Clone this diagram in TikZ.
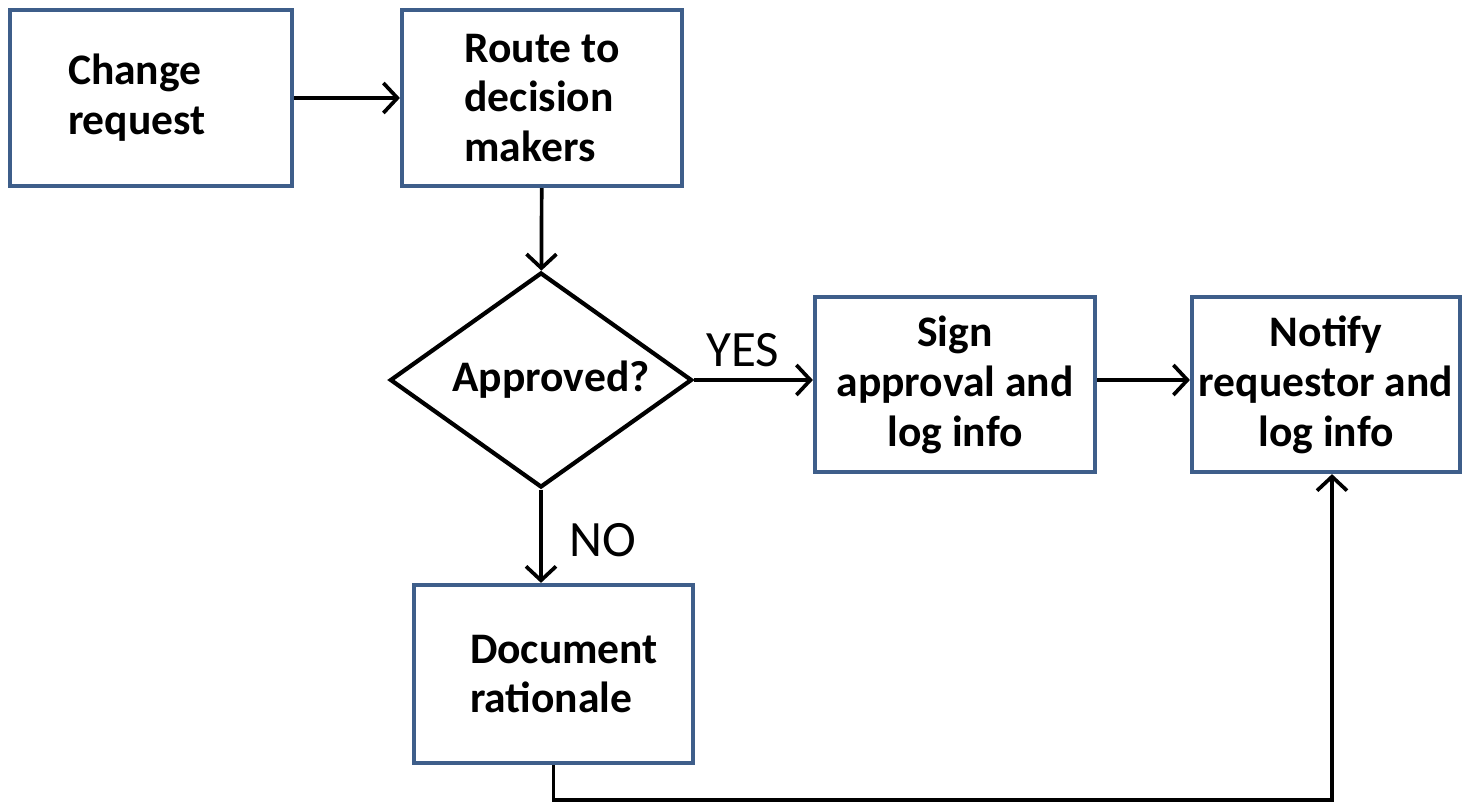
\documentclass[tikz,border=0pt]{standalone}
\usepackage{fontspec}
\setmainfont{Carlito}
\usepackage{xcolor}
\usepackage{tikz}
\usetikzlibrary{arrows.meta, positioning, calc, shapes.geometric}

\definecolor{boxblue}{RGB}{62,94,138}

\begin{document}
\begin{tikzpicture}[scale=1.0,
		box/.style={draw=boxblue, line width=1.2pt, minimum width=2.8cm, minimum height=1.76cm,
			font=\fontsize{12.4}{14.2}\selectfont\bfseries, align=center, inner sep=0pt},
		leftbox/.style={box, align=left, text width=#1},
		decision/.style={draw, line width=1.2pt, diamond, aspect=1.4, minimum width=3.02cm,
			minimum height=2.15cm, inner sep=0pt, font=\fontsize{12.4}{14.2}\selectfont\bfseries},
		flow/.style={line width=1.05pt, -{Straight Barb[length=1.4mm, width=3mm]}},
		answer/.style={font=\fontsize{14.5}{16}\selectfont}]
		\useasboundingbox (0,0) rectangle (14.62,8.02);
		
		% Boxes
		\node[leftbox=1.66cm, minimum width=2.82cm] (change) at (1.51,7.04) {Change\\request};
		\node[box, align=left] (route) at (5.42,7.04) {Route~to\\decision\\makers};
		\node[decision] (approved) at (5.41,4.22) {\hspace{0.2cm}Approved?};
		\node[box, minimum height=1.75cm] (sign) at (9.55,4.175) {Sign\\approval and\\log info};
		\node[box, minimum width=2.68cm, minimum height=1.75cm] (notify) at (13.26,4.175) {Notify\\requestor and\\log info};
		\node[leftbox=1.67cm, minimum width=2.79cm, minimum height=1.78cm] (docu) at (5.535,1.28) {Document\\rationale};
		
		% Arrows
		\draw[flow] (change) -- (route);
		\draw[flow] (route) -- (approved);
		\draw[flow] (approved.east) -- (approved.east -| sign.west);
		\draw[flow] (approved.south) -- (approved.south |- docu.north);
		\draw[flow] (sign.east |- approved.east) -- (notify.west |- approved.east);
		\coordinate (loop) at (13.32,0.02);
		\draw[flow] (docu.south) |- (loop) -- (loop |- notify.south);
		
		% Labels
		\node[answer] (yes) at (7.43,4.52) {YES};
		\node[answer] (no) at (6.03,2.62) {NO};
	\end{tikzpicture}
\end{document}
